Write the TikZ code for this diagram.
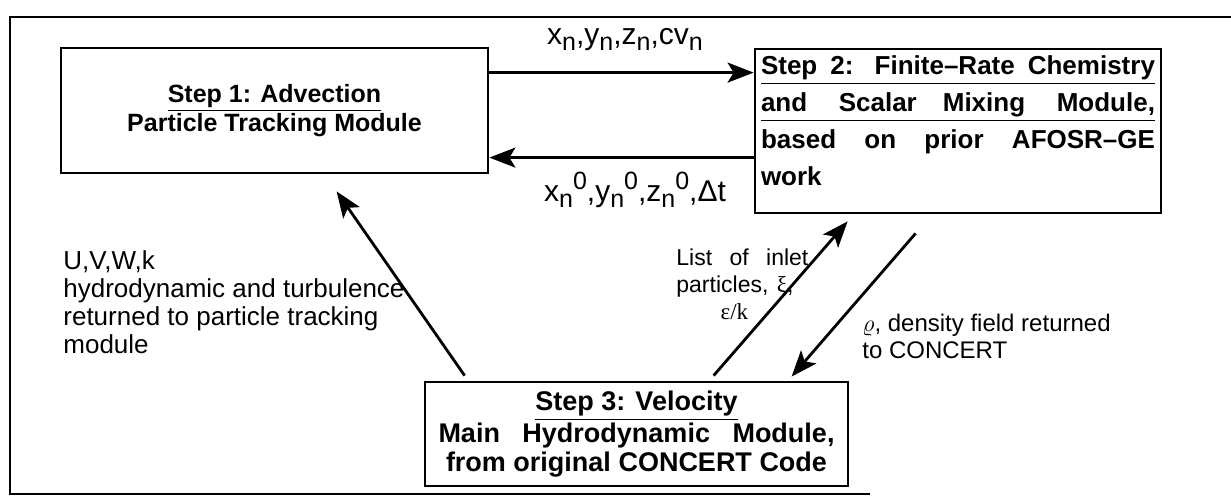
\documentclass[tikz,border=0pt]{standalone}
\usepackage{fontspec}
\setmainfont{Liberation Sans}
\newfontfamily\greekserif{Liberation Serif}
\usetikzlibrary{arrows.meta}
\newcommand\lowsub[1]{\raisebox{-0.35ex}{\fontsize{12.5}{12.5}\selectfont #1}}
\newcommand\highsup[1]{\raisebox{0.75ex}{\fontsize{12.5}{12.5}\selectfont #1}}

\begin{document}
\begin{tikzpicture}[x=0.5pt,y=-0.5pt,
  stepbox/.style={draw,line width=1.4pt,inner sep=0pt,font=\bfseries\fontsize{12.5}{14.5}\selectfont},
  lbl/.style={inner sep=0pt,font=\fontsize{13}{14}\selectfont},
  flow/.style={line width=1.4pt,-{Stealth[length=13pt,width=10pt,inset=3pt]}}]
\useasboundingbox (0,0) rectangle (1231,502);
% outer frame, open on the right
\draw[line width=1.4pt] (1231,17) -- (10,17) -- (10,494) -- (870,494);

% the three modules
\node[stepbox,minimum width=213.5pt,minimum height=62.5pt,align=center] (s1) at (274.5,110.5)
  {\underline{Step 1: Advection}\\Particle Tracking Module};
\node[stepbox,minimum width=203pt,minimum height=82pt,align=left,font=\bfseries\fontsize{13}{18.5}\selectfont] (s2) at (958,131)
  {\underline{\makebox[197pt][s]{Step 2: Finite–Rate Chemistry}}\\
   \underline{\makebox[197pt][s]{and Scalar\quad Mixing Module,}}\\
   \makebox[197pt][s]{based on prior AFOSR–GE}\\
   \makebox[197pt][l]{work}\rule[-10pt]{0pt}{10pt}};
\node[stepbox,minimum width=211.5pt,minimum height=52pt,align=center,font=\bfseries\fontsize{13.5}{14.5}\selectfont] (s3) at (636.5,434)
  {\underline{Step 3: Velocity}\\
   \makebox[198pt][s]{Main Hydrodynamic Module,}\\
   from original CONCERT Code};

% horizontal exchange between step 1 and step 2
\coordinate (t1) at ([yshift=-13pt]s1.north east);
\coordinate (b1) at ([yshift=-55.5pt]s1.north east);
\draw[flow] (t1) -- (t1 -| s2.west);
\draw[flow] (b1 -| s2.west) -- (b1);
\node[lbl,font=\fontsize{15}{15}\selectfont] (xn) at (625,40)
  {x\lowsub{n},y\lowsub{n},z\lowsub{n},cv\lowsub{n}};
\node[lbl,font=\fontsize{15}{15}\selectfont] (xn0) at (635,190)
  {x\lowsub{n}\highsup{0},y\lowsub{n}\highsup{0},z\lowsub{n}\highsup{0},Δt};

% slanted links to step 3
\draw[flow] ([xshift=20.5pt,yshift=2.5pt]s3.north west) -- ([xshift=138.5pt,yshift=-8.5pt]s1.south west);
\draw[flow] ([xshift=145pt,yshift=2.5pt]s3.north west) -- ([xshift=47pt,yshift=-3.5pt]s2.south west);
\draw[flow] ([xshift=81pt,yshift=-9.5pt]s2.south west) -- ([xshift=184pt,yshift=2pt]s3.north west);

\node[lbl,anchor=north west,align=left] (uvw) at (63,250)
  {U,V,W,k\\hydrodynamic and turbulence\\returned to particle tracking\\module};
\node[lbl,anchor=north west,align=left,font=\fontsize{11.5}{13.5}\selectfont] (inlet) at (676,248)
  {\makebox[66pt][s]{List of inlet}\\
   \makebox[58.5pt][s]{particles, {\greekserif ξ},}\\
   \makebox[58pt][c]{\greekserif ε/k}};
\node[lbl,anchor=north west,align=left,font=\fontsize{12}{13.5}\selectfont] (rho) at (862,314)
  {$\varrho$, density field returned\\to CONCERT};
\end{tikzpicture}
\end{document}
